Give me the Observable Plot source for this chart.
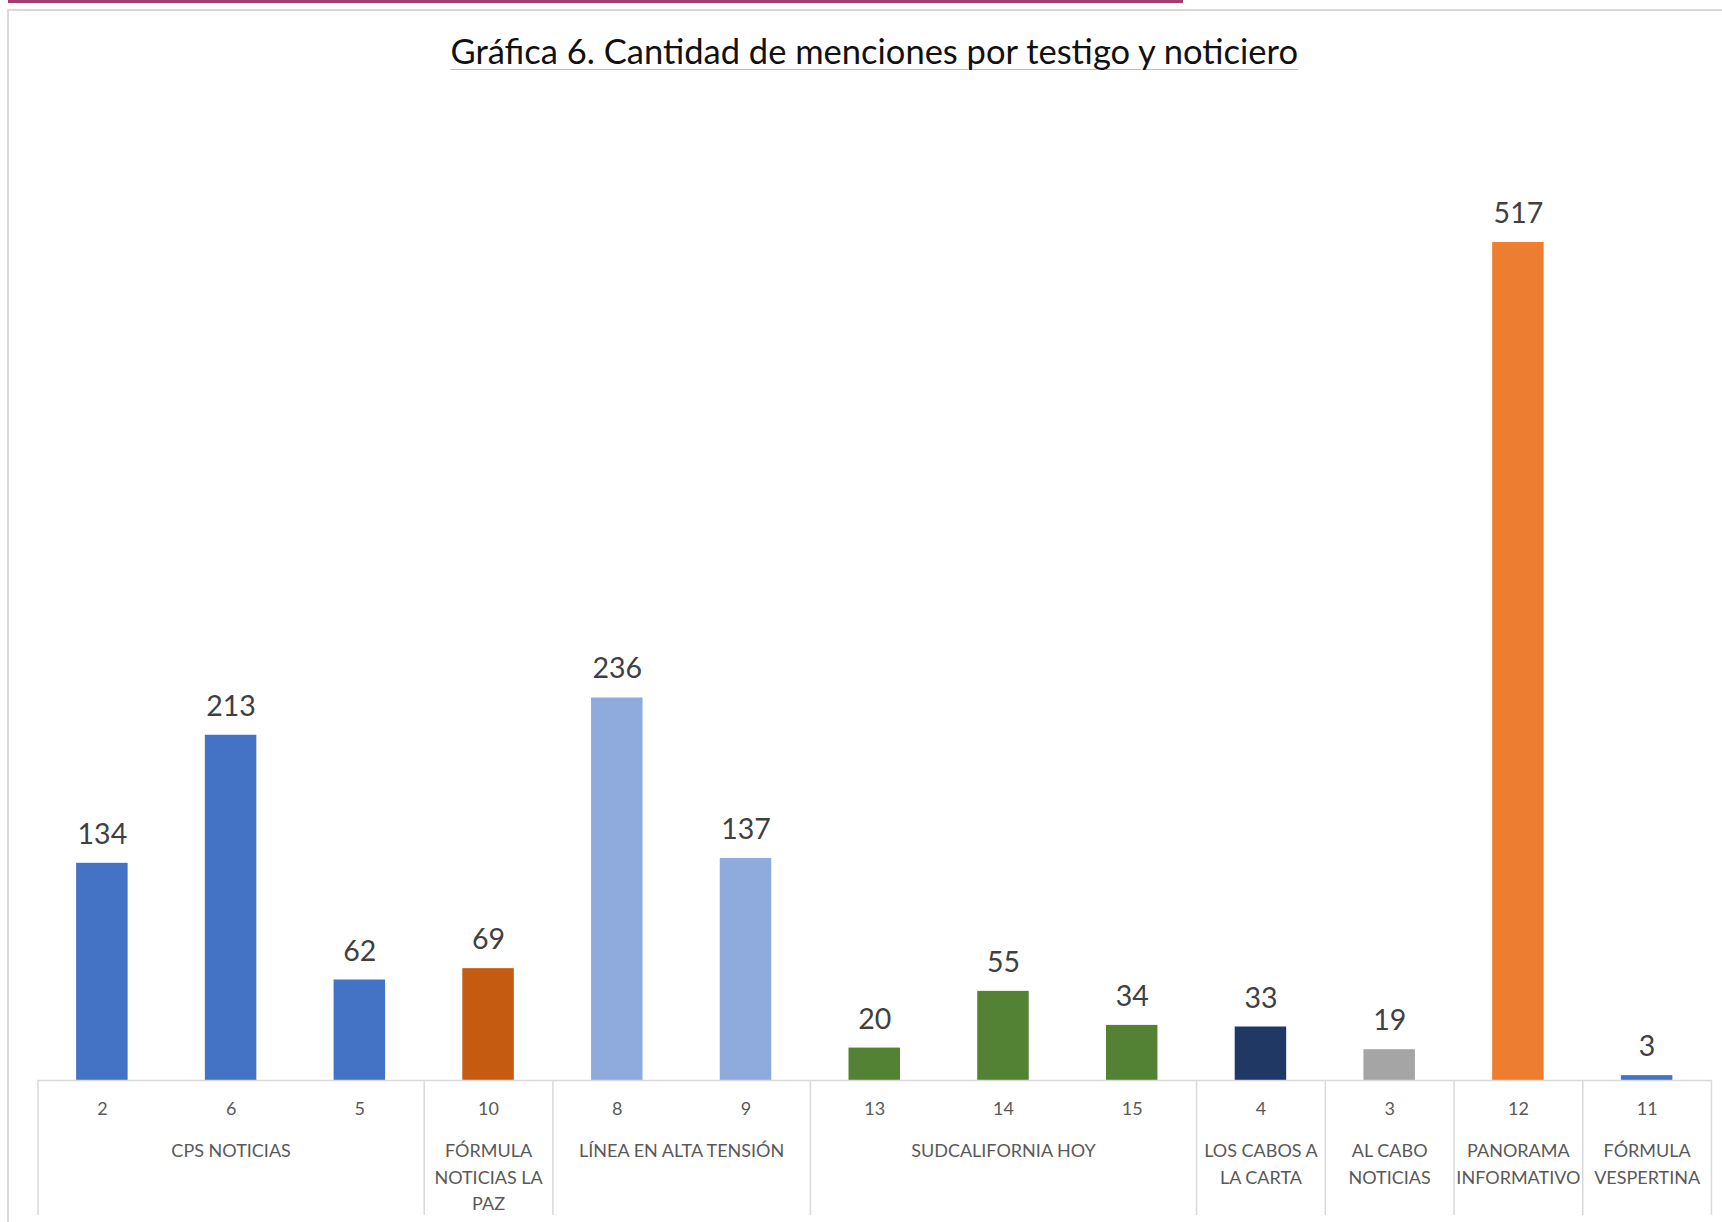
<!DOCTYPE html>
<html>
<head>
<meta charset="utf-8">
<script src="https://cdn.jsdelivr.net/npm/d3@7"></script>
<script src="https://cdn.jsdelivr.net/npm/@observablehq/plot@0.6"></script>
<style>
  html, body { margin: 0; padding: 0; background: #fff; }
  #wrap { position: relative; width: 1722px; height: 1222px; overflow: hidden; font-family: Lato, sans-serif; }
  #topbar { position: absolute; left: 8px; top: 0; width: 1175px; height: 2.5px; background: #A23E6E; }
  #frame { position: absolute; left: 7px; top: 9px; width: 1800px; height: 1300px; border-left: 2px solid #D9D9D9; border-top: 2px solid #D9D9D9; }
  #title { position: absolute; left: 37.5px; width: 1673.5px; top: 34.4px; text-align: center; font-size: 34.5px; line-height: 34.5px; color: #111; white-space: nowrap; }
  #title span { text-decoration: underline; text-decoration-color: #F2A7A7; text-decoration-thickness: 1px; text-underline-offset: 5px; }
  #chart { position: absolute; left: 0; top: 0; }
</style>
</head>
<body>
<div id="wrap">
  <div id="frame"></div>
  <div id="topbar"></div>
  <div id="chart"></div>
  <div id="title"><span>Gráfica 6. Cantidad de menciones por testigo y noticiero</span></div>
</div>
<script>
// ---- Data ----
const newscasts = [
  "CPS NOTICIAS", "CPS NOTICIAS", "CPS NOTICIAS",
  "FÓRMULA NOTICIAS LA PAZ",
  "LÍNEA EN ALTA TENSIÓN", "LÍNEA EN ALTA TENSIÓN",
  "SUDCALIFORNIA HOY", "SUDCALIFORNIA HOY", "SUDCALIFORNIA HOY",
  "LOS CABOS A LA CARTA",
  "AL CABO NOTICIAS",
  "PANORAMA INFORMATIVO",
  "FÓRMULA VESPERTINA"
];
const witnesses = ["2", "6", "5", "10", "8", "9", "13", "14", "15", "4", "3", "12", "11"];
const mentions  = [134, 213, 62, 69, 236, 137, 20, 55, 34, 33, 19, 517, 3];
const newscastColors = {
  "CPS NOTICIAS": "#4472C4",
  "FÓRMULA NOTICIAS LA PAZ": "#C55A11",
  "LÍNEA EN ALTA TENSIÓN": "#8FAADC",
  "SUDCALIFORNIA HOY": "#548235",
  "LOS CABOS A LA CARTA": "#203864",
  "AL CABO NOTICIAS": "#A5A5A5",
  "PANORAMA INFORMATIVO": "#ED7D31",
  "FÓRMULA VESPERTINA": "#4472C4"
};
const yMax = 600;

// ---- Build tables ----
const rows = witnesses.map((w, i) => ({i, witness: w, newscast: newscasts[i], value: mentions[i]}));
const groups = [];
rows.forEach(r => {
  const g = groups[groups.length - 1];
  if (g && g.name === r.newscast) g.end = r.i + 1;
  else groups.push({name: r.newscast, start: r.i, end: r.i + 1});
});
const boundaries = [0, ...groups.map(g => g.end)];

// ---- Layout ----
const W = 1722, H = 1222;
const mL = 37.5, mR = 11, mT = 107.5, mB = 142;
const n = witnesses.length;
const step = (W - mL - mR) / n;
const axisFont = 18;
const groupLineHeight = 26.5 / axisFont;

// wrap group labels to the width of their cells, as the spreadsheet does
const ctx = document.createElement("canvas").getContext("2d");
ctx.font = `${axisFont}px Lato`;
function wrap(label, maxW) {
  const words = label.split(" ");
  const lines = [];
  let cur = "";
  for (const w of words) {
    const t = cur ? cur + " " + w : w;
    if (!cur || ctx.measureText(t).width <= maxW) cur = t;
    else { lines.push(cur); cur = w; }
  }
  lines.push(cur);
  return lines.join("\n");
}
groups.forEach(g => { g.label = wrap(g.name, (g.end - g.start) * step - 6); });

const chart = Plot.plot({
  width: W,
  height: H,
  marginLeft: mL,
  marginRight: mR,
  marginTop: mT,
  marginBottom: mB,
  style: {fontFamily: "Lato, sans-serif", background: "transparent"},
  x: {type: "linear", domain: [0, n]},
  y: {domain: [0, yMax], axis: null},
  marks: [
    Plot.rectY(rows, {
      x1: d => d.i + 0.3,
      x2: d => d.i + 0.7,
      y1: 0,
      y2: "value",
      fill: d => newscastColors[d.newscast]
    }),
    Plot.ruleY([0], {stroke: "#D9D9D9", strokeWidth: 1.5}),
    Plot.axisX({
      ticks: boundaries,
      tickSize: 135,
      tickFormat: () => "",
      stroke: "#D9D9D9",
      strokeWidth: 1.5
    }),
    Plot.text(rows, {
      x: d => d.i + 0.5,
      y: "value",
      text: d => String(d.value),
      lineAnchor: "bottom",
      dy: -19.5,
      fontSize: 28.5,
      fill: "#404040"
    }),
    Plot.text(rows, {
      x: d => d.i + 0.5,
      frameAnchor: "bottom",
      text: "witness",
      lineAnchor: "top",
      dy: 1114.3 - (H - mB) - 0.71 * axisFont,
      fontSize: axisFont,
      fill: "#595959"
    }),
    Plot.text(groups, {
      x: d => (d.start + d.end) / 2,
      frameAnchor: "bottom",
      text: "label",
      lineAnchor: "top",
      lineHeight: groupLineHeight,
      dy: 1156.7 - (H - mB) - 0.71 * groupLineHeight * axisFont,
      fontSize: axisFont,
      fill: "#595959"
    })
  ]
});
document.getElementById("chart").appendChild(chart);
</script>
</body>
</html>
